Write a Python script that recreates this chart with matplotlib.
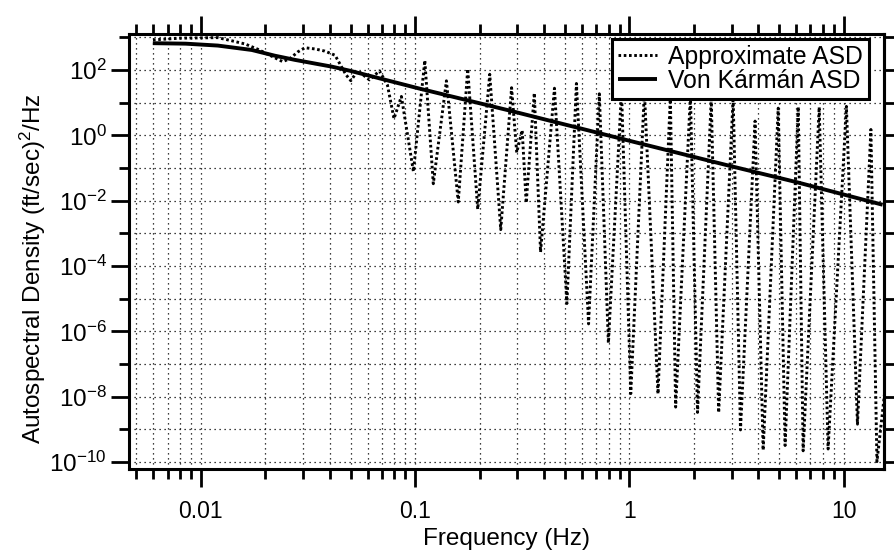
import matplotlib
matplotlib.use("Agg")
import matplotlib.pyplot as plt
from matplotlib.ticker import FixedLocator, FixedFormatter, NullFormatter

plt.rcParams['font.family'] = ['Liberation Sans', 'DejaVu Sans']
plt.rcParams['mathtext.fontset'] = 'custom'
plt.rcParams['mathtext.rm'] = 'Liberation Sans'
plt.rcParams['mathtext.it'] = 'Liberation Sans:italic'
plt.rcParams['mathtext.bf'] = 'Liberation Sans:bold'
plt.rcParams['axes.unicode_minus'] = False

# ---- data ----
vk_freq = [0.00597, 0.0085, 0.012, 0.0173, 0.0221, 0.0274, 0.0408, 0.0496,
           0.1047, 0.28, 1.05, 2.96, 6.02, 15.2]
vk_asd = [662, 640, 560, 410, 275, 205, 127, 95,
          27, 5.6, 0.63, 0.115, 0.037, 0.0075]

approx_freq = [0.00598, 0.0080, 0.0120, 0.0140, 0.0161, 0.01846, 0.0206, 0.0241,
               0.0260, 0.0284, 0.0306, 0.0341, 0.0379, 0.0423, 0.0475, 0.0501,
               0.0540, 0.0612, 0.0682, 0.0743, 0.0797, 0.0863, 0.0982, 0.111,
               0.1216, 0.140, 0.159, 0.176, 0.196, 0.223, 0.251, 0.282,
               0.298, 0.316, 0.330, 0.360, 0.385, 0.447, 0.511, 0.566,
               0.645, 0.724, 0.798, 0.919, 1.015, 1.175, 1.36, 1.553,
               1.644, 1.927, 2.08, 2.41, 2.61, 3.05, 3.30, 3.86,
               4.21, 4.95, 5.33, 6.14, 6.47, 7.69, 8.46, 10.3,
               11.6, 13.4, 14.3, 15.6]
approx_asd = [836, 942, 980, 780, 625, 431, 300, 180,
              221, 361, 480, 441, 379, 283, 72.6, 47,
              95, 49.8, 93.8, 34.4, 3.24, 15.5, 0.078, 197,
              0.033, 46.7, 0.0091, 107, 0.00546, 74, 0.0013, 28.7,
              0.298, 1.43, 0.0086, 19.7, 2.67e-4, 27.7, 7.1e-6, 38.7,
              1.69e-6, 18.7, 4.4e-7, 22.7, 1.24e-8, 22.2, 1.22e-8, 15.2,
              4.8e-9, 17.3, 3.3e-9, 12.8, 3.25e-9, 14.5, 9.6e-10, 2.73,
              2.3e-10, 6.8, 3.2e-10, 7.4, 2.2e-10, 7.3, 2.5e-10, 7.7,
              1.44e-9, 1.51, 1.03e-10, 1.67e-8]

x_major_ticks = [0.01, 0.1, 1, 10]
x_major_labels = ["0.01", "0.1", "1", "10"]
x_minor_ticks = [0.005, 0.006, 0.007, 0.008, 0.009,
                 0.02, 0.03, 0.04, 0.05, 0.06, 0.07, 0.08, 0.09,
                 0.2, 0.3, 0.4, 0.5, 0.6, 0.7, 0.8, 0.9,
                 2, 3, 4, 5, 6, 7, 8, 9]
y_major_ticks = [1e-10, 1e-8, 1e-6, 1e-4, 1e-2, 1e0, 1e2]
y_major_labels = ["$10^{-10}$", "$10^{-8}$", "$10^{-6}$", "$10^{-4}$",
                  "$10^{-2}$", "$10^{0}$", "$10^{2}$"]
y_minor_ticks = [1e-9, 1e-7, 1e-5, 1e-3, 1e-1, 1e1, 1e3]
y_right_ticks = [1e-10, 1e-9, 1e-8, 1e-7, 1e-6, 1e-5, 1e-4, 1e-3, 1e-2,
                 1e-1, 1e0, 1e1, 1e2, 1e3]

fig = plt.figure(figsize=(8.95, 5.54), dpi=100)
ax = fig.add_axes([0.1441, 0.1534, 0.8441, 0.7861])
ax.set_xscale('log')
ax.set_yscale('log')

ax.plot(approx_freq, approx_asd, color='black', lw=2.1,
        linestyle=(0, (0.9, 0.9)), label='Approximate ASD', zorder=3)
ax.plot(vk_freq, vk_asd, color='black', lw=2.8, solid_capstyle='butt',
        label='Von Kármán ASD', zorder=4)

ax.set_xlim(0.00462, 15.5)
ax.set_ylim(6.1e-11, 1309)

ax.xaxis.set_major_locator(FixedLocator(x_major_ticks))
ax.xaxis.set_major_formatter(FixedFormatter(x_major_labels))
ax.xaxis.set_minor_locator(FixedLocator(x_minor_ticks))
ax.xaxis.set_minor_formatter(NullFormatter())
ax.yaxis.set_major_locator(FixedLocator(y_major_ticks))
ax.yaxis.set_major_formatter(FixedFormatter(y_major_labels))
ax.yaxis.set_minor_locator(FixedLocator(y_minor_ticks))
ax.yaxis.set_minor_formatter(NullFormatter())

ax.grid(True, which='both', color='black', linestyle=(0, (1, 3)), linewidth=0.9)

for s in ax.spines.values():
    s.set_linewidth(2.2)

ax.tick_params(axis='x', which='both', direction='out', top=True, bottom=True,
               width=2, labelsize=16.5, pad=9)
ax.tick_params(axis='x', which='major', length=13)
ax.tick_params(axis='x', which='minor', length=7)
ax.tick_params(axis='y', which='both', direction='out', left=True, right=False,
               width=2, labelsize=17.5, pad=3)
ax.tick_params(axis='y', which='major', length=13)
ax.tick_params(axis='y', which='minor', length=7.5)

sec = ax.secondary_yaxis('right')
sec.yaxis.set_major_locator(FixedLocator(y_right_ticks))
sec.yaxis.set_major_formatter(NullFormatter())
sec.yaxis.set_minor_locator(FixedLocator([]))
sec.tick_params(which='both', direction='out', length=7.5, width=2, labelright=False)
sec.spines['right'].set_linewidth(2.2)

ax.set_xlabel('Frequency (Hz)', fontsize=17.5, labelpad=4)
ax.set_ylabel('Autospectral Density (ft/sec)$^2$/Hz', fontsize=17.5)
ax.yaxis.set_label_coords(-0.107, 0.46)

leg = ax.legend(loc='upper right', bbox_to_anchor=(0.979, 0.9885), borderaxespad=0,
                fontsize=17.8, frameon=True, fancybox=False, edgecolor='black',
                framealpha=1, handlelength=1.55, handletextpad=0.45,
                labelspacing=0.0, borderpad=0.25)
leg.get_frame().set_linewidth(2.2)

fig.savefig('out.png', dpi=100)
